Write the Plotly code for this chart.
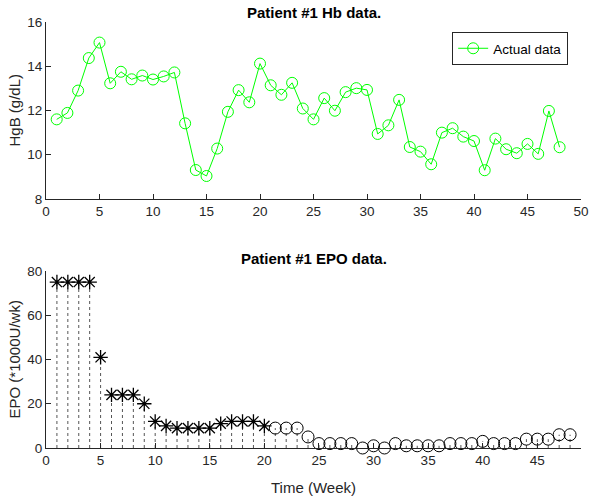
import plotly.graph_objects as go

# ---- Data ----
hb_weeks = list(range(1, 49))
hb_values = [11.60, 11.89, 12.90, 14.37, 15.07, 13.23, 13.75, 13.41, 13.58, 13.40,
             13.54, 13.72, 11.42, 9.31, 9.04, 10.28, 11.94, 12.92, 12.37, 14.12,
             13.14, 12.71, 13.25, 12.09, 11.60, 12.56, 11.99, 12.83, 13.01, 12.93,
             10.94, 11.33, 12.48, 10.35, 10.14, 9.57, 11.00, 11.20, 10.82, 10.62,
             9.30, 10.73, 10.25, 10.07, 10.49, 10.04, 11.98, 10.34]

epo_star_weeks = list(range(1, 21))
epo_star_values = [75, 75, 75, 75, 41, 24, 24, 24, 20, 12,
                   10, 9, 9, 9, 9, 11, 12, 12, 12, 10]

epo_circle_weeks = list(range(21, 49))
epo_circle_values = [9, 9, 9, 5, 2, 2, 2, 2, 0, 1,
                     0, 2, 1, 1, 1, 1, 2, 2, 2, 3,
                     2, 2, 2, 4, 4, 4, 6, 6]

hb_xticks = list(range(0, 51, 5))
hb_yticks = [8, 10, 12, 14, 16]
epo_xticks = list(range(0, 46, 5))
epo_yticks = [0, 20, 40, 60, 80]

# ---- Styling ----
FONT = "Liberation Sans, Arial, Helvetica, sans-serif"
AX = "#262626"
W, H = 601, 500
L_PX, R_PX = 46, 588
TOP1, BOT1 = 22, 199
TOP2, BOT2 = 271, 448
ML, MR, MT, MB = L_PX, W - R_PX, TOP1, H - BOT2
PH = H - MT - MB


def fy(page_y):
    return (H - MB - page_y) / PH


top_dom = [fy(BOT1), 1.0]
bot_dom = [0.0, fy(TOP2)]


def stems(xs, ys):
    sx, sy = [], []
    for x, y in zip(xs, ys):
        sx += [x, x, None]
        sy += [0, y, None]
    return sx, sy


fig = go.Figure()

fig.add_trace(go.Scatter(
    x=hb_weeks, y=hb_values, mode="lines+markers", name="Actual data",
    line=dict(color="#00ff00", width=1),
    marker=dict(symbol="circle-open", size=11, color="#00ff00", line=dict(width=1)),
    xaxis="x", yaxis="y", cliponaxis=False,
))

sx, sy = stems(epo_star_weeks + epo_circle_weeks, epo_star_values + epo_circle_values)
fig.add_trace(go.Scatter(
    x=sx, y=sy, mode="lines", showlegend=False,
    line=dict(color="#555555", width=1, dash="dot"),
    xaxis="x2", yaxis="y2", hoverinfo="skip",
))
fig.add_trace(go.Scatter(
    x=epo_star_weeks, y=epo_star_values, mode="markers", showlegend=False,
    marker=dict(symbol="asterisk-open", size=12, color="black", line=dict(width=1.3, color="black")),
    xaxis="x2", yaxis="y2", cliponaxis=False,
))
fig.add_trace(go.Scatter(
    x=epo_circle_weeks, y=epo_circle_values, mode="markers", showlegend=False,
    marker=dict(symbol="circle-open", size=12, color="black", line=dict(width=1, color="black")),
    xaxis="x2", yaxis="y2", cliponaxis=False,
))

axis_common = dict(showline=True, linecolor=AX, linewidth=1, mirror=False,
                   ticks="inside", ticklen=5, tickcolor=AX, tickwidth=1,
                   showgrid=False, zeroline=False,
                   tickfont=dict(family=FONT, size=13.5, color=AX))

fig.update_layout(
    width=W, height=H,
    margin=dict(l=ML, r=MR, t=MT, b=MB),
    paper_bgcolor="white", plot_bgcolor="white",
    font=dict(family=FONT, color=AX),
    xaxis=dict(domain=[0, 1], range=[0, 50], tickvals=hb_xticks, anchor="y", **axis_common),
    yaxis=dict(domain=top_dom, range=[8, 16], tickvals=hb_yticks, anchor="x", **axis_common),
    xaxis2=dict(domain=[0, 1], range=[0, 49], tickvals=epo_xticks, anchor="y2", **axis_common),
    yaxis2=dict(domain=bot_dom, range=[0, 80], tickvals=epo_yticks, anchor="x2", **axis_common),
    legend=dict(x=(575 - L_PX) / (R_PX - L_PX), y=fy(32), xanchor="right", yanchor="top",
                bgcolor="white", bordercolor="#262626", borderwidth=1,
                font=dict(family=FONT, size=13.5, color="black")),
    showlegend=True,
)

ann = []
ann.append(dict(text="<b>Patient #1 Hb data.</b>", x=0.5, y=top_dom[1], xref="paper", yref="paper",
                xanchor="center", yanchor="bottom", yshift=-1, showarrow=False,
                font=dict(family=FONT, size=15, color="black")))
ann.append(dict(text="<b>Patient #1 EPO data.</b>", x=0.5, y=bot_dom[1], xref="paper", yref="paper",
                xanchor="center", yanchor="bottom", yshift=2, showarrow=False,
                font=dict(family=FONT, size=15, color="black")))
ann.append(dict(text="HgB (g/dL)", x=0, y=(top_dom[0] + top_dom[1]) / 2, xref="paper", yref="paper",
                xanchor="center", yanchor="middle", xshift=-(L_PX - 14), textangle=-90, showarrow=False,
                font=dict(family=FONT, size=15, color=AX)))
ann.append(dict(text="EPO (*1000U/wk)", x=0, y=(bot_dom[0] + bot_dom[1]) / 2, xref="paper", yref="paper",
                xanchor="center", yanchor="middle", xshift=-(L_PX - 14), textangle=-90, showarrow=False,
                font=dict(family=FONT, size=15, color=AX)))
ann.append(dict(text="Time (Week)", x=0.5, y=0, xref="paper", yref="paper",
                xanchor="center", yanchor="middle", yshift=-(487 - BOT2), showarrow=False,
                font=dict(family=FONT, size=15, color=AX)))
fig.update_layout(annotations=ann)

fig.write_html("out.html", config={"displayModeBar": False},
               post_script="document.body.style.margin='0';")
